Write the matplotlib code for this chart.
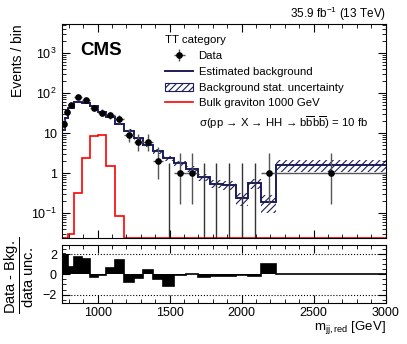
import math
import numpy as np
import matplotlib
matplotlib.use('Agg')
import matplotlib.pyplot as plt
from matplotlib.ticker import FixedLocator, FuncFormatter, MultipleLocator, LogLocator, NullFormatter
from matplotlib.lines import Line2D
from matplotlib.patches import Patch

plt.rcParams['font.family'] = ['Liberation Sans', 'DejaVu Sans']
plt.rcParams['mathtext.fontset'] = 'custom'
plt.rcParams['mathtext.rm'] = 'Liberation Sans'
plt.rcParams['mathtext.it'] = 'Liberation Sans:italic'
plt.rcParams['mathtext.bf'] = 'Liberation Sans:bold'
plt.rcParams['hatch.linewidth'] = 0.8

# binning (GeV)
edges = [750, 776, 797, 835, 889, 945, 1000, 1058, 1118, 1182, 1250, 1314, 1382,
         1455, 1532, 1611, 1694, 1780, 1868, 1960, 2042, 2138, 2236, 3000]
# observed events
data = [17, 34, 50, 80, 69, 44, 33, 28, 23, 9, 6, 6, 2, 0, 1, 1, 0, 0, 0, 0, 0, 1, 1]
# estimated background and its stat. uncertainty
bkg = [12, 24, 44, 62, 58, 47, 35, 26, 17, 11.5, 7.5, 5.2, 3.6, 2.4, 1.8, 1.3,
       0.8, 0.55, 0.52, 0.24, 0.57, 0.19, 1.6]
bkg_unc = [0.7, 1.2, 2.0, 2.6, 2.5, 2.2, 1.8, 1.5, 1.2, 1.0, 0.8, 0.6, 0.5, 0.35,
           0.28, 0.22, 0.15, 0.13, 0.13, 0.09, 0.16, 0.09, 0.52]
# bulk graviton 1000 GeV
signal = [0, 0, 0.03, 0.33, 2.4, 8.4, 9.2, 1.5, 0.085, 0, 0, 0, 0, 0, 0, 0,
          0, 0, 0, 0, 0, 0, 0]
# (data - bkg) / data unc.
pull = [2.0, 1.9, 0.7, 1.7, 1.5, -0.3, -0.1, 0.6, 1.4, -0.8, -0.4, 0.4, -0.5,
        -1.2, -0.1, 0.0, -0.3, -0.2, -0.2, -0.05, -0.2, 1.0, 0.0]

navy = '#1c1c5c'
ylow, yhigh = 0.0237, 5400


def pois_cdf(n, mu):
    return sum(math.exp(-mu) * mu**k / math.factorial(k) for k in range(n + 1))


def garwood(n, a=0.158655):
    # simple bisection, good enough for plotting
    def solve(f, lo, hi):
        for _ in range(80):
            m = 0.5 * (lo + hi)
            if f(m) > 0:
                lo = m
            else:
                hi = m
        return 0.5 * (lo + hi)
    up = solve(lambda mu: pois_cdf(n, mu) - a, 0, n + 20 + 5 * math.sqrt(n + 1))
    if n == 0:
        lo = 0.0
    else:
        lo = solve(lambda mu: a - (1 - pois_cdf(n - 1, mu)), 0, n + 1)
    return n - lo, up - n


edges = np.array(edges, dtype=float)
data = np.array(data)
bkg = np.array(bkg)
bkg_unc = np.array(bkg_unc)
centers = 0.5 * (edges[1:] + edges[:-1])
halfw = 0.5 * (edges[1:] - edges[:-1])
errs = np.array([garwood(int(n)) for n in data])

fig = plt.figure(figsize=(4.07, 3.44), dpi=100)
ax = fig.add_axes([0.1516, 0.3073, 0.7956, 0.623])
rax = fig.add_axes([0.1516, 0.1201, 0.7956, 0.1677])

# background band
lo_ext = np.append(bkg - bkg_unc, (bkg - bkg_unc)[-1])
hi_ext = np.append(bkg + bkg_unc, (bkg + bkg_unc)[-1])
ax.fill_between(edges, lo_ext, hi_ext, step='post', facecolor='none',
                edgecolor=navy, hatch='/////', linewidth=0)
ax.stairs(bkg, edges, baseline=None, color=navy, lw=1.4)
ax.stairs(np.maximum(signal, ylow), edges, baseline=None, color='red', lw=1.2)

# data
nz = data > 0
cont = ax.errorbar(centers[nz], data[nz], xerr=halfw[nz],
                   yerr=[errs[nz, 0], errs[nz, 1]], fmt='o', color='black',
                   ms=3.8, ecolor='#555555', elinewidth=1.0, capsize=0)
ax.vlines(centers[~nz], ylow * 0.5, errs[~nz, 1], color='#333333', lw=1.0)

ax.set_xlim(750, 3000)
ax.set_yscale('log')
ax.set_ylim(ylow, yhigh)
ylabels = {0.1: '$10^{-1}$', 1: '1', 10: '10', 100: '$10^{2}$', 1000: '$10^{3}$'}
ax.yaxis.set_major_locator(FixedLocator(list(ylabels.keys())))
ax.yaxis.set_major_formatter(FuncFormatter(lambda v, p: ylabels.get(round(v, 3), '')))
ax.yaxis.set_minor_locator(LogLocator(subs=np.arange(2, 10), numticks=20))
ax.yaxis.set_minor_formatter(NullFormatter())
ax.xaxis.set_major_locator(MultipleLocator(500))
ax.xaxis.set_minor_locator(MultipleLocator(100))
ax.tick_params(axis='x', labelbottom=False)

# ratio panel
rax.stairs(pull, edges, baseline=0, fill=True, color='black')
rax.stairs(pull, edges, baseline=0, color='black', lw=1.2)
rax.axhline(2, ls=':', color='black', lw=0.8)
rax.axhline(-2, ls=':', color='black', lw=0.8)
rax.set_xlim(750, 3000)
rax.set_ylim(-2.8, 2.9)
rax.yaxis.set_major_locator(FixedLocator([-2, 0, 2]))
rax.yaxis.set_major_formatter(FuncFormatter(lambda v, p: '\u22122' if v < 0 else '%d' % v))
rax.yaxis.set_minor_locator(MultipleLocator(0.5))
rax.xaxis.set_major_locator(MultipleLocator(500))
rax.xaxis.set_minor_locator(MultipleLocator(100))

for a in (ax, rax):
    a.tick_params(which='both', direction='in', top=True, right=True, labelsize=9)
    a.tick_params(which='major', length=6, width=0.8)
    a.tick_params(which='minor', length=3, width=0.6)
    for s in a.spines.values():
        s.set_linewidth(0.8)
rax.tick_params(axis='x', pad=3)

# legend
handles = [cont, Line2D([], [], color=navy, lw=1.4),
           Patch(facecolor='none', edgecolor=navy, hatch='/////', lw=0.8),
           Line2D([], [], color='red', lw=1.2), Line2D([], [], alpha=0)]
labels = ['Data', 'Estimated background', 'Background stat. uncertainty',
          'Bulk graviton 1000 GeV',
          'σ(pp \u2192 X \u2192 HH \u2192 b$\\overline{\\mathrm{b}}$b$\\overline{\\mathrm{b}}$) = 10 fb']
ax.legend(handles, labels, title='TT category', loc='upper left',
          bbox_to_anchor=(0.4054, 0.897), bbox_transform=fig.transFigure,
          frameon=False, fontsize=8.2, title_fontsize=8.2, alignment='left',
          handlelength=2.5, handletextpad=0.45, labelspacing=0.5,
          borderpad=0, borderaxespad=0)

fig.text(0.1966, 0.840, 'CMS', fontsize=13.5, fontweight='bold', va='baseline')
fig.text(0.9477, 0.9608, r'35.9 fb$^{-1}$ (13 TeV)', fontsize=8.5, ha='right', va='center')
fig.text(0.045, 0.930, 'Events / bin', rotation=90, fontsize=10, ha='center', va='top')
fig.text(0.047, 0.2, r'$\dfrac{\mathrm{Data\ \text{-}\ Bkg.}}{\mathrm{data\ unc.}}$',
         rotation=90, fontsize=10.5, ha='center', va='center')
fig.text(0.9477, 1 - 330 / 344, r'm$_{\mathrm{jj,red}}$ [GeV]', fontsize=9.5,
         ha='right', va='baseline')

fig.savefig('out.png', dpi=100)
